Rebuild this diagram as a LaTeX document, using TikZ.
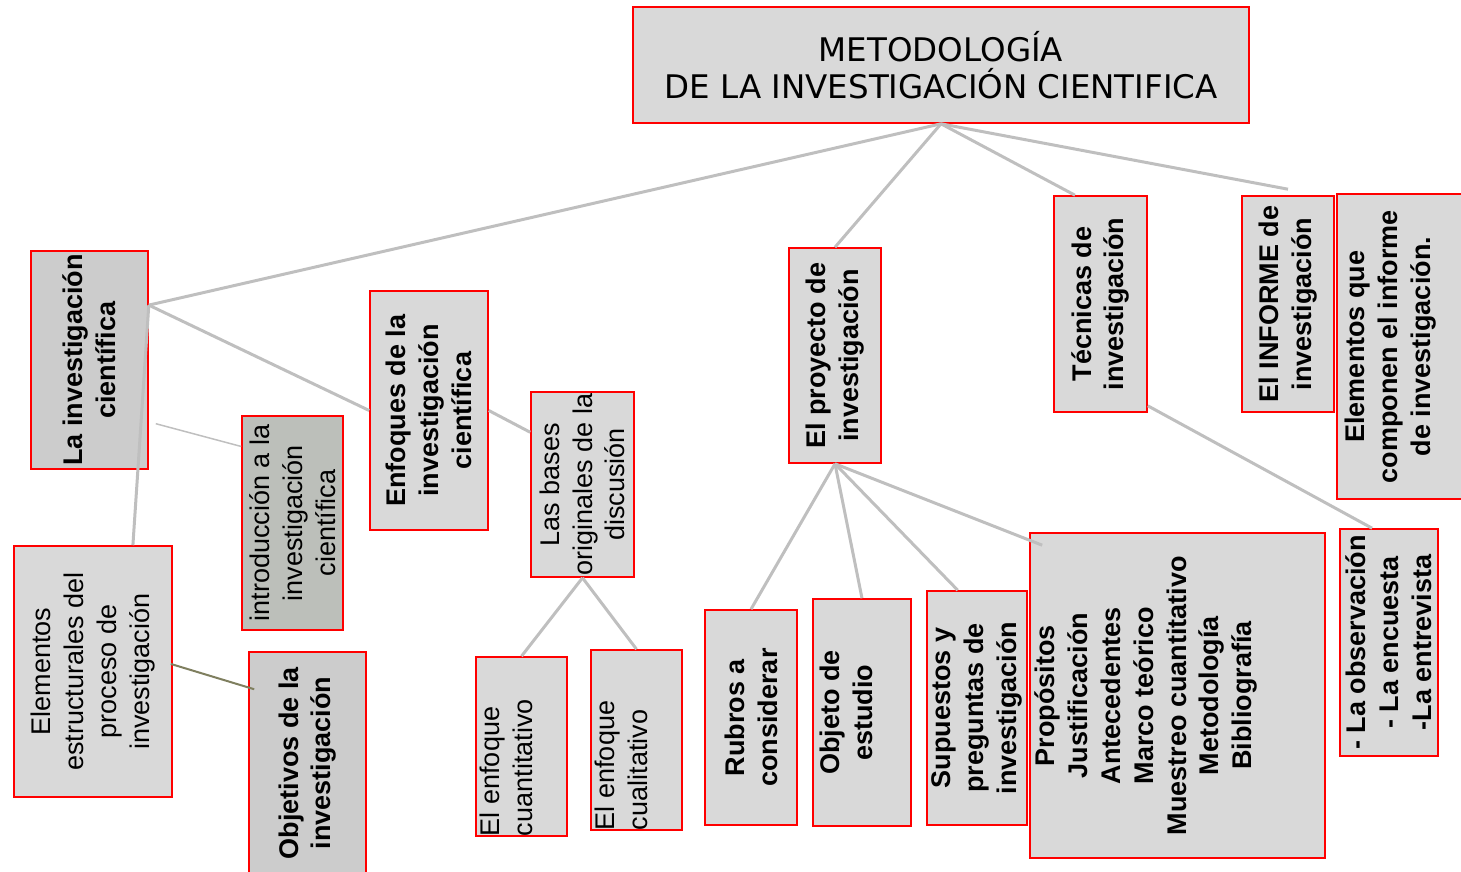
\documentclass[tikz,border=0pt]{standalone}
\usepackage{fontspec}
\usepackage{graphicx}
\setmainfont{Liberation Sans}
\newfontfamily\titlefont{DejaVu Sans}
\usetikzlibrary{calc}

\definecolor{boxgray}{HTML}{D9D9D9}
\definecolor{darkbox}{HTML}{CCCCCC}
\definecolor{sagebox}{HTML}{BCBFBA}
\definecolor{linkgray}{HTML}{BFBFBF}
\definecolor{olivelink}{HTML}{7F7F5F}

\newcommand{\sidetext}[4][c]{\rotatebox{90}{\parbox[c][#3][#1]{#2}{\centering #4}}}

\tikzset{
    box/.style={draw=red, fill=boxgray, line width=1.6pt, inner sep=0pt, font=\fontsize{27}{32.8}\selectfont},
    boldbox/.style={box, font=\fontsize{27}{32.8}\selectfont\bfseries},
    link/.style={draw=linkgray, line width=3pt},
}

\begin{document}
\begin{tikzpicture}[x=1pt, y=-1pt]
    \useasboundingbox (0,0) rectangle (1461,871);

    \node[box, minimum width=616pt, minimum height=116pt, align=center, font=\titlefont\fontsize{32.5}{37}\selectfont] (title) at (941,65) {METODOLOGÍA\\DE LA INVESTIGACIÓN CIENTIFICA};

    \node[boldbox, fill=darkbox] (lainv) at (89.5,360) {\sidetext{218pt}{117pt}{La investigación\\científica}};
    \node[box] (elem) at (93,671.5) {\sidetext{251pt}{158pt}{Elementos\\estructurales del\\proceso de\\investigación}};
    \node[box, fill=sagebox] (intro) at (292.5,523) {\sidetext{214pt}{101pt}{introducción a la\\investigación\\científica}};
    \node[boldbox, fill=darkbox] (objet) at (307.5,763) {\sidetext{222pt}{117pt}{Objetivos de la\\investigación}};
    \node[boldbox] (enfoq) at (429,410.5) {\sidetext{239pt}{118pt}{Enfoques de la\\investigación\\científica}};
    \node[box] (bases) at (582.5,484.5) {\sidetext{185pt}{103pt}{Las bases\\originales de la\\discusión}};
    \node[box] (cuanti) at (521.5,746.5) {\sidetext[t]{179pt}{91pt}{\raggedright\vspace*{4pt}El enfoque\\cuantitativo}};
    \node[box] (cuali) at (636.5,740) {\sidetext[t]{180pt}{91pt}{\raggedright\vspace*{4pt}El enfoque\\cualitativo}};

    \node[boldbox] (proyecto) at (835,355.5) {\sidetext{215pt}{92pt}{El proyecto de\\investigación}};
    \node[boldbox] (rubros) at (751,717.5) {\sidetext{215pt}{92pt}{Rubros a\\considerar}};
    \node[boldbox] (objeto) at (862,712.5) {\sidetext[t]{227pt}{98pt}{\vspace*{7pt}Objeto de\\estudio}};
    \node[boldbox] (supuestos) at (977,708) {\sidetext{234pt}{100pt}{Supuestos y\\preguntas de\\investigación}};
    \node[boldbox] (lista) at (1177.5,695.5) {\sidetext[t]{325pt}{295pt}{\vspace*{5pt}Propósitos\\Justificación\\Antecedentes\\Marco teórico\\Muestreo cuantitativo\\Metodología\\Bibliografía}};

    \node[boldbox] (tecnicas) at (1100.5,304) {\sidetext{216pt}{93pt}{Técnicas de\\investigación}};
    \node[boldbox] (observ) at (1389,642.5) {\sidetext{227pt}{98pt}{- La observación\\- La encuesta\\-La entrevista}};
    \node[boldbox] (informe) at (1288,304) {\sidetext{216pt}{92pt}{El INFORME de\\investigación}};
    \node[boldbox] (compon) at (1403.5,346.5) {\sidetext[t]{305pt}{133pt}{\vspace*{8pt}Elementos que\\componen el informe\\de investigación.}};

    \draw[link] (title.south) -- ($(lainv.north east)!0.25!(lainv.south east)$);
    \draw[link] (title.south) -- (proyecto.north);
    \draw[link] (title.south) -- ($(tecnicas.north west)!0.23!(tecnicas.north east)$);
    \draw[link] (title.south) -- ($(informe.north)+(0,-6)$);

    \draw[link] ($(lainv.north east)!0.25!(lainv.south east)$) -- (enfoq.west);
    \draw[link] ($(lainv.north east)!0.25!(lainv.south east)$) -- ($(elem.north west)!0.75!(elem.north east)$);
    \draw[linkgray, line width=1.5pt] ($(lainv.north east)!0.79!(lainv.south east)+(7,0)$) -- ($(intro.north west)!0.145!(intro.south west)$);
    \draw[olivelink, line width=2pt] ($(elem.north east)!0.47!(elem.south east)+(-2,0)$) -- ($(objet.north west)!0.17!(objet.south west)+(6,0)$);

    \draw[link] (enfoq.east) -- ($(bases.north west)!0.22!(bases.south west)$);
    \draw[link] (bases.south) -- (cuanti.north);
    \draw[link] (bases.south) -- (cuali.north);

    \draw[link] (proyecto.south) -- (rubros.north);
    \draw[link] (proyecto.south) -- (objeto.north);
    \draw[link] (proyecto.south) -- ($(supuestos.north west)!0.31!(supuestos.north east)$);
    \draw[link] (proyecto.south) -- ($(lista.north west)+(13,13)$);

    \draw[link] ($(tecnicas.south east)+(0,-7)$) -- ($(observ.north west)!0.33!(observ.north east)$);
\end{tikzpicture}
\end{document}
